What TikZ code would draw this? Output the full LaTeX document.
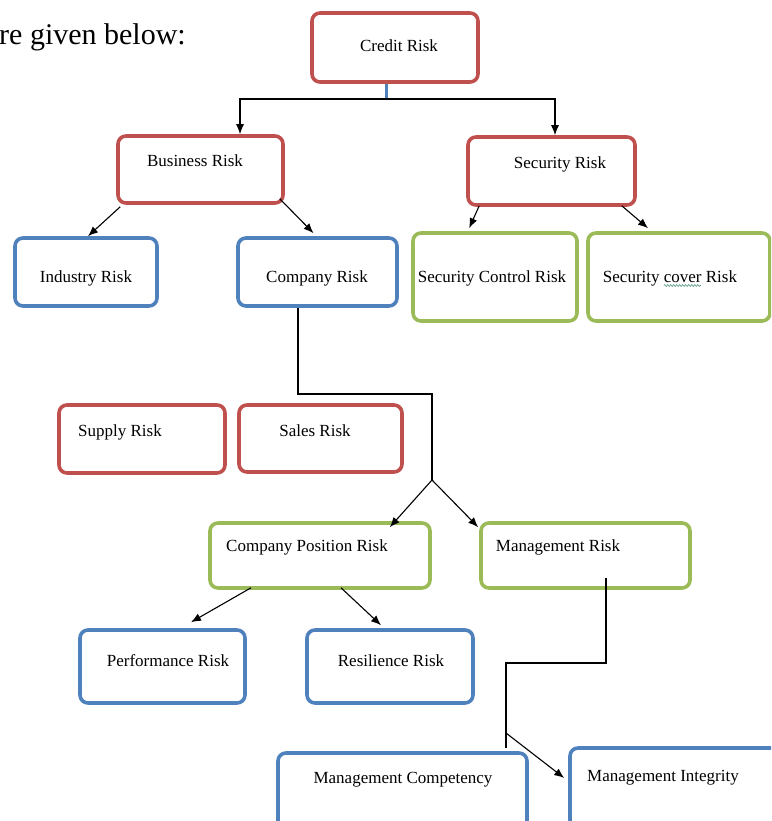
\documentclass[tikz,border=0pt]{standalone}
\usepackage{fontspec}
\setmainfont{Liberation Serif}
\usetikzlibrary{arrows.meta,calc,decorations.pathmorphing}
\definecolor{rbord}{HTML}{C0504D}
\definecolor{bbord}{HTML}{4F81BD}
\definecolor{gbord}{HTML}{9BBB59}
\definecolor{squig}{HTML}{5B9A8B}
\begin{document}
\begin{tikzpicture}[x=1pt,y=-1pt,
  box/.style={draw, line width=3.6pt, rounded corners=8pt, fill=white, inner sep=0pt},
  redbox/.style={box, draw=rbord},
  bluebox/.style={box, draw=bbord},
  greenbox/.style={box, draw=gbord},
  lbl/.style={font=\fontsize{17}{20}\selectfont, inner sep=0pt, anchor=base},
  conn/.style={draw=black, line width=1.1pt},
  arr/.style={conn, -{Latex[length=10pt,width=8pt]}},
]
\useasboundingbox (0,0) rectangle (771,821);
\clip (0,0) rectangle (771,821);

\node[font=\fontsize{30}{36}\selectfont, anchor=base west, inner sep=0pt] (intro) at (-1,45) {re given below:};

% boxes
\node[redbox, minimum width=166pt, minimum height=69pt] (credit) at (395,47.5) {};
\node[redbox, minimum width=165pt, minimum height=67pt] (business) at (200.5,169.5) {};
\node[redbox, minimum width=167pt, minimum height=68pt] (security) at (551.5,171) {};
\node[bluebox, minimum width=142pt, minimum height=68pt] (industry) at (86,272) {};
\node[bluebox, minimum width=159pt, minimum height=68pt] (company) at (317.5,272) {};
\node[greenbox, minimum width=164pt, minimum height=88pt] (secctrl) at (495,277) {};
\node[greenbox, minimum width=182pt, minimum height=88pt] (seccover) at (679,277) {};
\node[redbox, minimum width=166pt, minimum height=68pt] (supply) at (142,439) {};
\node[redbox, minimum width=163pt, minimum height=67pt] (sales) at (320.5,438.5) {};
\node[greenbox, minimum width=220pt, minimum height=65pt] (cpr) at (320,555.5) {};
\node[greenbox, minimum width=209pt, minimum height=65pt] (mgmt) at (585.5,555.5) {};
\node[bluebox, minimum width=165pt, minimum height=73pt] (perf) at (162.5,666.5) {};
\node[bluebox, minimum width=166pt, minimum height=73pt] (resil) at (390,666.5) {};
\node[bluebox, minimum width=249pt, minimum height=80pt] (mcomp) at (402.5,793) {};
\node[bluebox, minimum width=230pt, minimum height=80pt] (minteg) at (685,788) {};

% labels
\node[lbl] (creditT) at (399,52) {Credit Risk};
\node[lbl] (businessT) at (195,167) {Business Risk};
\node[lbl] (securityT) at (560,168) {Security Risk};
\node[lbl] (industryT) at (86,282) {Industry Risk};
\node[lbl] (companyT) at (317,282) {Company Risk};
\node[lbl] (secctrlT) at (492,282) {Security Control Risk};
\node[lbl] (seccoverT) at (670,282) {Security cover Risk};
\node[lbl] (supplyT) at (120,436) {Supply Risk};
\node[lbl] (salesT) at (315,436) {Sales Risk};
\node[lbl] (cprT) at (307,551) {Company Position Risk};
\node[lbl] (mgmtT) at (558,551) {Management Risk};
\node[lbl] (perfT) at (168,666) {Performance Risk};
\node[lbl] (resilT) at (391,666) {Resilience Risk};
\node[lbl] (mcompT) at (403,783) {Management Competency};
\node[lbl] (mintegT) at (663,781) {Management Integrity};

% spelling squiggle under "cover"
\draw[squig, line width=0.6pt, decorate, decoration={snake, amplitude=1pt, segment length=3pt}]
  ($(seccoverT.base west)+(61,3.5)$) -- ++(37,0);

% connectors
\coordinate (j0) at (386,99);
\draw[line width=3pt, draw=bbord] (credit.south -| j0) -- (j0);
\draw[arr] (j0) -| ($(business.north)+(39.5,0)$);
\draw[arr] (j0) -| ($(security.north)+(3.5,0)$);

\draw[arr] ($(business.south west)+(4,2)$) -- ($(industry.north)+(2,0)$);
\draw[arr] ($(business.south east)+(-5,-6)$) -- ($(company.north)+(-4,-3)$);
\draw[arr] ($(security.south west)+(13,-1)$) -- ($(secctrl.north west)+(58,-3)$);
\draw[arr] ($(security.south east)+(-15,-1)$) -- ($(seccover.north)+(-31,-3)$);

\coordinate (apex) at (432,480);
\draw[conn] ($(company.south)+(-19.5,0)$) |- ($(apex)+(0,-86)$) -- (apex);
\draw[arr] (apex) -- ($(cpr.north east)+(-42,6)$);
\draw[arr] (apex) -- ($(mgmt.north west)+(-1,6)$);

\draw[arr] ($(cpr.south)+(-69,-2)$) -- ($(perf.north)+(28.5,-6)$);
\draw[arr] ($(cpr.south)+(21,-2)$) -- ($(resil.north)+(-9,-3)$);

\coordinate (mbranch) at (506,733);
\draw[conn] ($(mgmt.south)+(20.5,-12)$) |- ($(mbranch)+(0,-70)$) -- ($(mbranch)+(0,15)$);
\draw[arr] (mbranch) -- ($(minteg.west)+(-4,-10)$);
\end{tikzpicture}
\end{document}
